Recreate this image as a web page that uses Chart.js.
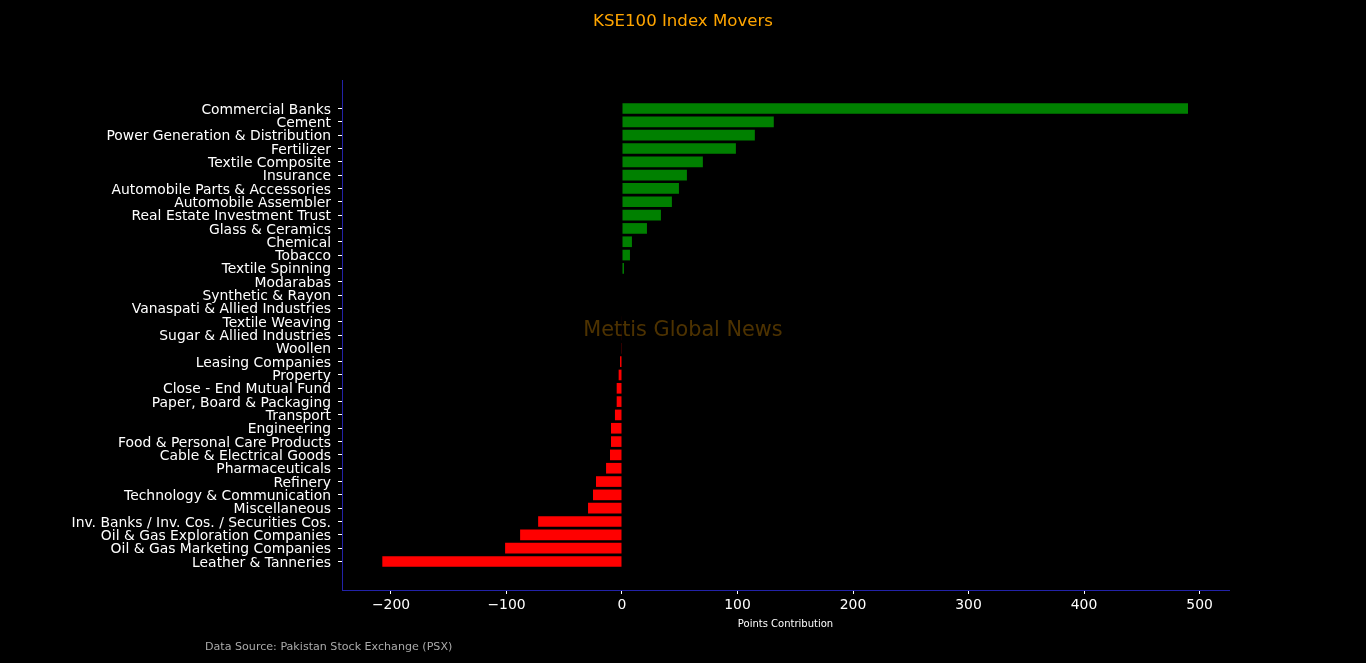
<!DOCTYPE html>
<html lang="en">
<head>
    <meta charset="UTF-8">
    <script src="https://cdn.jsdelivr.net/npm/chart.js@4.4.1/dist/chart.umd.min.js"></script>
    <title>KSE100 Index Movers</title>
    <style type="text/css">
        body {
            margin: 0;
            background: #000;
        }
        #wrap {
            width: 1366px;
            height: 663px;
        }
    </style>
</head>
<body>
    <div id="wrap">
        <canvas id="moversCanvas"></canvas>
    </div>
<script>
// sectors, top to bottom
var sectors = [
    "Commercial Banks", "Cement", "Power Generation & Distribution", "Fertilizer",
    "Textile Composite", "Insurance", "Automobile Parts & Accessories", "Automobile Assembler",
    "Real Estate Investment Trust", "Glass & Ceramics", "Chemical", "Tobacco",
    "Textile Spinning", "Modarabas", "Synthetic & Rayon", "Vanaspati & Allied Industries",
    "Textile Weaving", "Sugar & Allied Industries", "Woollen", "Leasing Companies",
    "Property", "Close - End Mutual Fund", "Paper, Board & Packaging", "Transport",
    "Engineering", "Food & Personal Care Products", "Cable & Electrical Goods", "Pharmaceuticals",
    "Refinery", "Technology & Communication", "Miscellaneous", "Inv. Banks / Inv. Cos. / Securities Cos.",
    "Oil & Gas Exploration Companies", "Oil & Gas Marketing Companies", "Leather & Tanneries"
];

// points contributed to the index
var points = [
    490.0, 131.4, 115.0, 98.6,
    70.0, 56.2, 49.3, 43.2,
    33.7, 21.6, 8.6, 6.9,
    1.7, 0.0, 0.0, 0.0,
    -0.4, -0.5, -0.6, -1.7,
    -2.9, -4.6, -4.6, -6.1,
    -9.5, -9.5, -10.4, -13.8,
    -22.5, -25.1, -29.4, -72.6,
    -88.2, -101.2, -207.5
];

var xTicks = [-200, -100, 0, 100, 200, 300, 400, 500];

var spineColor = "#2222a8";
var font = "'DejaVu Sans', sans-serif";

var textPlugin = {
    id: 'textPlugin',
    beforeDatasetsDraw: function(chart) {
        var ctx = chart.ctx;
        ctx.save();
        ctx.font = "20.8px " + font;
        ctx.fillStyle = "rgba(255, 165, 0, 0.3)";
        ctx.textAlign = "center";
        ctx.textBaseline = "middle";
        ctx.fillText("Mettis Global News", 683, 331);
        ctx.restore();
    },
    afterDraw: function(chart) {
        var ctx = chart.ctx;
        ctx.save();
        ctx.textBaseline = "middle";
        ctx.font = "16.6px " + font;
        ctx.fillStyle = "#ffa500";
        ctx.textAlign = "center";
        ctx.fillText("KSE100 Index Movers", 683, 22);
        ctx.font = "11.1px " + font;
        ctx.fillStyle = "#aaaaaa";
        ctx.textAlign = "left";
        ctx.fillText("Data Source: Pakistan Stock Exchange (PSX)", 205, 647);
        ctx.restore();
    }
};

var moversChart = new Chart(document.getElementById("moversCanvas"), {
    type: 'bar',
    data: {
        datasets: [{
            label: 'Points Contribution',
            data: points.map(function(v, i) { return {x: v, y: i}; }),
            backgroundColor: points.map(function(v) { return v >= 0 ? "#008000" : "#ff0000"; }),
            borderWidth: 0,
            barPercentage: 0.8,
            categoryPercentage: 1.0
        }]
    },
    options: {
        indexAxis: 'y',
        responsive: true,
        maintainAspectRatio: false,
        animation: false,
        layout: {padding: {left: 0, right: 137, top: 80, bottom: 0}},
        plugins: {
            legend: {display: false},
            tooltip: {enabled: false},
            title: {display: false}
        },
        scales: {
            x: {
                type: 'linear',
                min: -242.4,
                max: 525.5,
                afterBuildTicks: function(scale) {
                    scale.ticks = xTicks.map(function(v) { return {value: v}; });
                },
                afterFit: function(scale) { scale.height = 73; },
                ticks: {
                    color: "#ffffff",
                    font: {family: font, size: 13.9},
                    padding: 3,
                    callback: function(v) { return v < 0 ? "\u2212" + Math.abs(v) : String(v); }
                },
                grid: {drawOnChartArea: false, drawTicks: true, tickColor: "#ffffff", tickLength: 4},
                border: {display: true, color: spineColor, width: 1},
                title: {
                    display: true,
                    text: "Points Contribution",
                    color: "#ffffff",
                    font: {family: font, size: 10},
                    padding: {top: 0, bottom: 33}
                }
            },
            y: {
                type: 'linear',
                reverse: true,
                offset: false,
                min: -2.14,
                max: sectors.length - 1 + 2.14,
                afterBuildTicks: function(scale) {
                    scale.ticks = sectors.map(function(s, i) { return {value: i}; });
                },
                afterFit: function(scale) { scale.width = 342; },
                ticks: {
                    color: "#ffffff",
                    font: {family: font, size: 13.9},
                    padding: 7,
                    labelOffset: 1.5,
                    autoSkip: false,
                    callback: function(v) { return sectors[v]; }
                },
                grid: {offset: false, drawOnChartArea: false, drawTicks: true, tickColor: "#ffffff", tickLength: 4},
                border: {display: true, color: spineColor, width: 1}
            }
        }
    },
    plugins: [textPlugin]
});
</script>
</body>
</html>
